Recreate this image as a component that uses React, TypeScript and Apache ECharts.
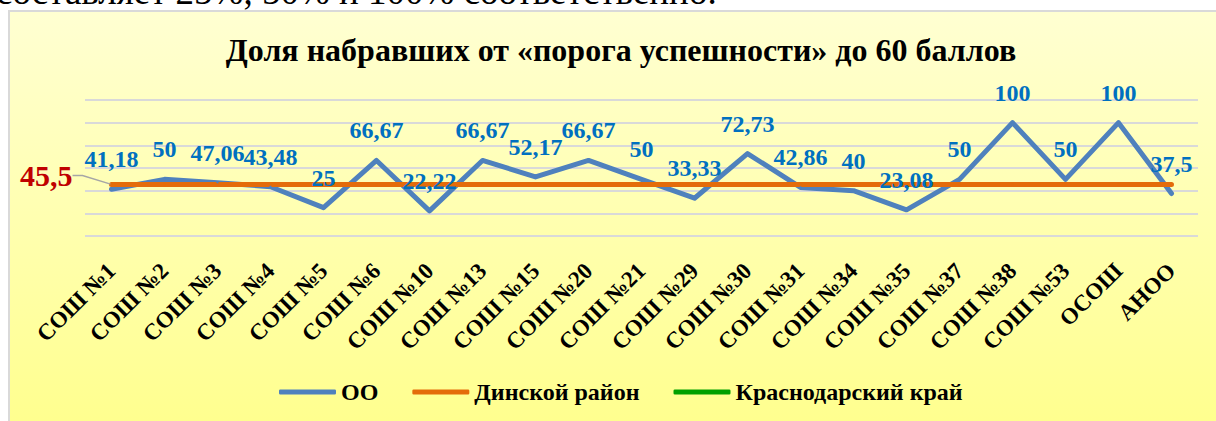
import React, { useEffect, useRef } from "react";
import * as echarts from "echarts";

const categories = [
  "СОШ №1", "СОШ №2", "СОШ №3", "СОШ №4", "СОШ №5", "СОШ №6", "СОШ №10",
  "СОШ №13", "СОШ №15", "СОШ №20", "СОШ №21", "СОШ №29", "СОШ №30", "СОШ №31",
  "СОШ №34", "СОШ №35", "СОШ №37", "СОШ №38", "СОШ №53", "ОСОШ", "АНОО",
];
const ooValues = [
  41.18, 50, 47.06, 43.48, 25, 66.67, 22.22, 66.67, 52.17, 66.67, 50, 33.33,
  72.73, 42.86, 40, 23.08, 50, 100, 50, 100, 37.5,
];
const districtValues = [
  45.5, 45.5, 45.5, 45.5, 45.5, 45.5, 45.5, 45.5, 45.5, 45.5, 45.5, 45.5,
  45.5, 45.5, 45.5, 45.5, 45.5, 45.5, 45.5, 45.5, 45.5,
];
const regionValues: number[] = [];
const seriesNames = ["ОО", "Динской район", "Краснодарский край"];
const titleText = "Доля набравших от «порога успешности» до 60 баллов";
const topText = "составляет 25%, 50% и 100% соответственно.";
const yMin = 0;
const yMax = 120;
const yInterval = 20;

const SERIF = '"Liberation Serif", "Times New Roman", serif';
const fmt = (v: number) => String(v).replace(".", ",");

export default function App() {
  const ref = useRef<HTMLDivElement>(null);
  useEffect(() => {
    document.body.style.margin = "0";
    const chart = echarts.init(ref.current!, undefined, { renderer: "svg" });
    const option: any = {
      animation: false,
      graphic: [
        {
          type: "rect",
          z: -10,
          shape: { x: 9, y: 11, width: 1300, height: 500 },
          style: {
            fill: new echarts.graphic.LinearGradient(0, 0, 0, 1, [
              { offset: 0, color: "#FFFFD2" },
              { offset: 1, color: "#FFFF80" },
            ]),
            stroke: "#D9D9D9",
            lineWidth: 2,
          },
        },
        {
          type: "text",
          z: -5,
          x: -4,
          y: -9,
          style: {
            text: topText,
            font: `37px ${SERIF}`,
            fill: "#000",
            verticalAlign: "middle",
          },
        },
        {
          type: "text",
          x: 621,
          y: 50,
          style: {
            text: titleText,
            font: `bold 32px ${SERIF}`,
            fill: "#000",
            align: "center",
            verticalAlign: "middle",
          },
        },
      ],
      grid: { left: 85, right: 18, top: 100, bottom: 185 },
      xAxis: {
        type: "category",
        data: categories,
        boundaryGap: true,
        axisLine: { show: false },
        axisTick: { show: false },
        axisLabel: {
          interval: 0,
          rotate: 45,
          margin: 31,
          fontFamily: SERIF,
          fontWeight: "bold",
          fontSize: 23,
          color: "#000",
        },
      },
      yAxis: {
        type: "value",
        min: yMin,
        max: yMax,
        interval: yInterval,
        axisLabel: { show: false },
        axisLine: { show: false },
        axisTick: { show: false },
        splitLine: { lineStyle: { color: "#D9D9D9", width: 2 } },
      },
      legend: {
        left: 279,
        top: 380,
        padding: 0,
        icon: "roundRect",
        itemWidth: 57,
        itemHeight: 5,
        itemGap: 34,
        data: seriesNames,
        textStyle: {
          fontFamily: SERIF,
          fontWeight: "bold",
          fontSize: 24,
          color: "#000",
        },
      },
      series: [
        {
          name: seriesNames[0],
          type: "line",
          data: ooValues,
          symbol: "circle",
          symbolSize: 2,
          showSymbol: true,
          itemStyle: { color: "#4F81BD" },
          lineStyle: { color: "#4F81BD", width: 5, cap: "round", join: "round" },
          label: {
            show: true,
            position: "top",
            distance: 17,
            color: "#0070C0",
            fontFamily: SERIF,
            fontWeight: "bold",
            fontSize: 24,
            formatter: (p: any) => fmt(p.value),
          },
        },
        {
          name: seriesNames[1],
          type: "line",
          data: districtValues.map((v, i) =>
            i === 0
              ? {
                  value: v,
                  label: {
                    show: true,
                    position: "left",
                    distance: 38,
                    color: "#C00000",
                    fontFamily: SERIF,
                    fontWeight: "bold",
                    fontSize: 30,
                    formatter: (p: any) => fmt(p.value),
                  },
                  labelLine: {
                    show: true,
                    length2: 10,
                    lineStyle: { color: "#A6A6A6", width: 1.5 },
                  },
                }
              : v
          ),
          symbol: "circle",
          symbolSize: 2,
          showSymbol: true,
          itemStyle: { color: "#E46C0A" },
          lineStyle: { color: "#E46C0A", width: 5, cap: "round" },
          labelLayout: { dy: -9 },
        },
        {
          name: seriesNames[2],
          type: "line",
          data: regionValues,
          symbol: "circle",
          symbolSize: 2,
          itemStyle: { color: "#00A000" },
          lineStyle: { color: "#00A000", width: 5, cap: "round" },
        },
      ],
    };
    chart.setOption(option);
    return () => chart.dispose();
  }, []);
  return <div ref={ref} style={{ width: 1216, height: 421 }} />;
}
